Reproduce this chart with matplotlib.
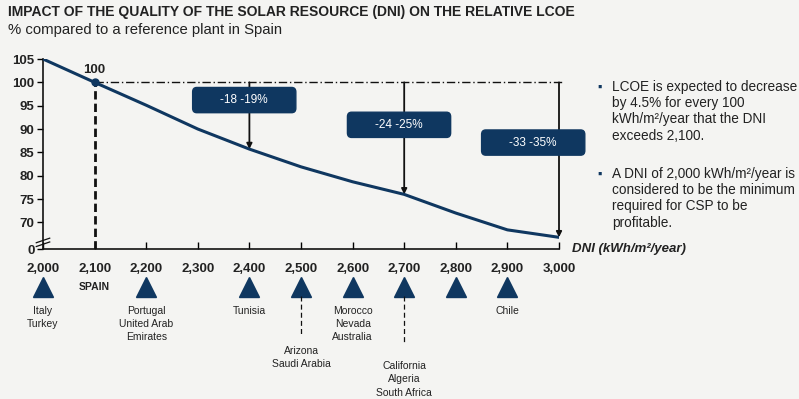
import matplotlib.pyplot as plt
from matplotlib.patches import FancyBboxPatch
import matplotlib.transforms as mtransforms

plt.rcParams['font.family'] = ['Liberation Sans', 'DejaVu Sans']

# data
dni = [2000, 2100, 2200, 2300, 2400, 2500, 2600, 2700, 2800, 2900, 3000]
lcoe = [105, 100, 95.1, 90.0, 85.7, 81.9, 78.7, 76.0, 72.0, 68.4, 66.8]
xtick_labels = ['2,000', '2,100', '2,200', '2,300', '2,400', '2,500',
                '2,600', '2,700', '2,800', '2,900', '3,000']
ytick_vals = [64.3, 70, 75, 80, 85, 90, 95, 100, 105]
ytick_labels = ['0', '70', '75', '80', '85', '90', '95', '100', '105']

drop_dni = [2400, 2700, 3000]
drop_labels = ['-18 -19%', '-24 -25%', '-33 -35%']

country_dni = [2000, 2200, 2400, 2500, 2600, 2700, 2800, 2900]
country_names = ['Italy\nTurkey', 'Portugal\nUnited Arab\nEmirates', 'Tunisia',
                 'Arizona\nSaudi Arabia', 'Morocco\nNevada\nAustralia',
                 'California\nAlgeria\nSouth Africa', '', 'Chile']
country_low = [False, False, False, True, False, True, False, False]

navy = '#0f3760'
bg = '#f4f4f2'

fig = plt.figure(figsize=(7.99, 3.99), dpi=100, facecolor=bg)
ax = fig.add_axes([43 / 799, (399 - 249) / 399, (559 - 43) / 799, 190 / 399])
ax.set_facecolor(bg)

ax.plot(dni, lcoe, color=navy, lw=2.2, solid_capstyle='round', zorder=4)
ax.plot([2100], [100], 'o', color=navy, ms=5, zorder=5)
ax.text(2100, 101.3, '100', ha='center', va='bottom', fontsize=9.5, fontweight='bold', color='#222222')

ax.set_xlim(2000, 3000)
ax.set_ylim(64.3, 105)
ax.set_xticks(dni)
ax.set_xticklabels([])
ax.set_yticks(ytick_vals)
ax.set_yticklabels(ytick_labels, fontsize=9.5, fontweight='bold', color='#222222')
ax.tick_params(axis='x', direction='in', length=5, width=1)
ax.tick_params(axis='y', direction='out', length=4, width=1, pad=2)
for s in ['top', 'right']:
    ax.spines[s].set_visible(False)
for s in ['left', 'bottom']:
    ax.spines[s].set_linewidth(1.2)
    ax.spines[s].set_color('#111111')

# reference lines
ax.plot([2100, 3010], [100, 100], color='#111111', lw=1, ls=(0, (6, 2, 1, 2)), zorder=2, clip_on=False)
ax.plot([2100, 2100], [64.3, 100], color='#111111', lw=2, ls=(0, (3, 1.5)), zorder=3)

# drop arrows and boxes
box_y = [96.2, 90.9, 87.1]
for x, lab, by in zip(drop_dni, drop_labels, box_y):
    y_end = lcoe[dni.index(x)]
    ax.annotate('', xy=(x, y_end), xytext=(x, 100),
                arrowprops=dict(arrowstyle='-|>', color='#111111', lw=1.3,
                                mutation_scale=8, shrinkA=0, shrinkB=0), zorder=3)
    w, h = 200, 5.4
    cx = x - 10 if x < 3000 else x - 50
    box = FancyBboxPatch((cx - w / 2, by - h / 2), w, h,
                         boxstyle='round,pad=0,rounding_size=8',
                         mutation_aspect=0.12, fc=navy, ec=navy, zorder=6, clip_on=False)
    ax.add_patch(box)
    ax.text(cx, by, lab, ha='center', va='center', color='white', fontsize=8.5, zorder=7)

# axis break marks
for dy in [0.025, 0.045]:
    ax.plot([-0.013, 0.013], [dy - 0.012, dy + 0.012], transform=ax.transAxes,
            color='#111111', lw=0.9, clip_on=False)

# x labels and country markers below the axis
trans = mtransforms.blended_transform_factory(ax.transData, ax.transAxes)
for x, lab in zip(dni, xtick_labels):
    ax.text(x, -0.105, lab, transform=trans, ha='center', va='center',
            fontsize=9.5, fontweight='bold', color='#222222')
ax.text(2100, -0.2, 'SPAIN', transform=trans, ha='center', va='center',
        fontsize=7.5, fontweight='bold', color='#222222')
ax.plot(country_dni, [-0.2] * len(country_dni), '^', color=navy, ms=14,
        transform=trans, clip_on=False)
for x, name, low in zip(country_dni, country_names, country_low):
    if low:
        ax.plot([x, x], [-0.245, -0.455 if x == 2500 else -0.495], transform=trans,
                color='#111111', lw=0.9, ls=(0, (4, 2.5)), clip_on=False)
        ty = -0.51 if x == 2500 else -0.59
    else:
        ty = -0.3
    ax.text(x, ty, name, transform=trans, ha='center', va='top', fontsize=7.5,
            color='#222222', linespacing=1.4)

ax.text(1.025, 0.0, 'DNI (kWh/m²/year)', transform=ax.transAxes, ha='left', va='center',
        fontsize=9.5, fontweight='bold', style='italic', color='#222222')

# titles
fig.text(8 / 799, 1 - 12 / 399, 'IMPACT OF THE QUALITY OF THE SOLAR RESOURCE (DNI) ON THE RELATIVE LCOE',
         ha='left', va='center', fontsize=10, fontweight='bold', color='#222222')
fig.text(8 / 799, 1 - 30 / 399, '% compared to a reference plant in Spain',
         ha='left', va='center', fontsize=10.7, color='#222222')

# side notes
notes = ['LCOE is expected to decrease\nby 4.5% for every 100\nkWh/m²/year that the DNI\nexceeds 2,100.',
         'A DNI of 2,000 kWh/m²/year is\nconsidered to be the minimum\nrequired for CSP to be\nprofitable.']
for note, ytop in zip(notes, [80, 167]):
    fig.text(600 / 799, 1 - (ytop + 8) / 399, '▪', ha='center', va='center',
             fontsize=9, color=navy)
    fig.text(612 / 799, 1 - ytop / 399, note, ha='left', va='top', fontsize=9.8,
             color='#222222', linespacing=1.2)

fig.savefig('out.png', dpi=100, facecolor=bg)
